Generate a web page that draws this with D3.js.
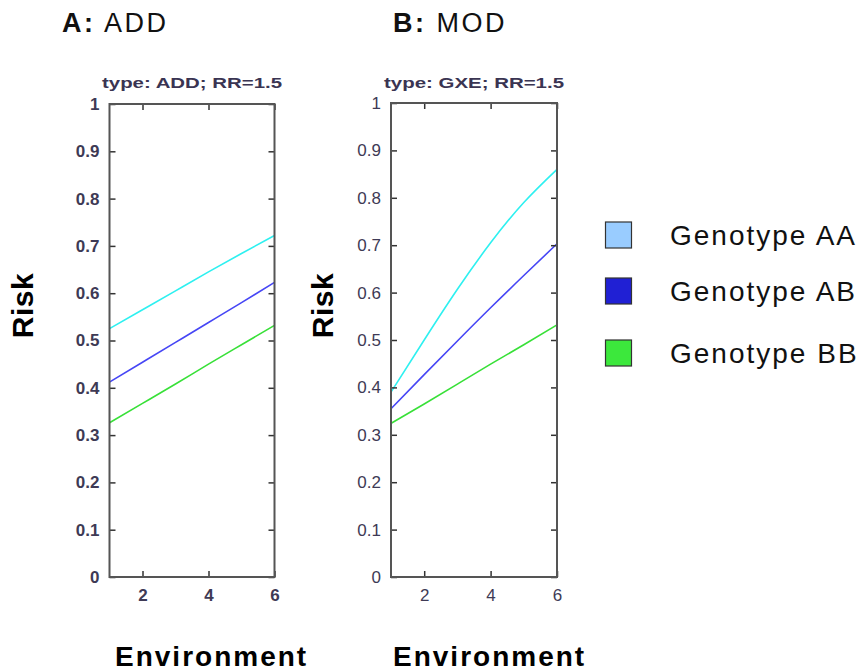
<!DOCTYPE html>
<html lang="en">
<head>
    <meta charset="UTF-8">
    <title>Risk by Environment and Genotype</title>
    <script src="https://d3js.org/d3.v7.min.js"></script>
    <style>
        body { margin: 0; background: #fff; }
        text { font-family: Arial, "Liberation Sans", sans-serif; }
    </style>
</head>
<body>
    <div id="chart"></div>
    <script>
        // Data
        const envX = [1, 2, 3, 4, 5, 6];
        const addAA = [0.525, 0.565, 0.605, 0.645, 0.684, 0.722];
        const addAB = [0.412, 0.454, 0.496, 0.538, 0.580, 0.623];
        const addBB = [0.326, 0.367, 0.408, 0.450, 0.491, 0.532];
        const modAA = [0.390, 0.500, 0.607, 0.705, 0.790, 0.860];
        const modAB = [0.355, 0.427, 0.498, 0.568, 0.636, 0.703];
        const modBB = [0.324, 0.365, 0.407, 0.449, 0.490, 0.532];
        const genotypes = ['Genotype AA', 'Genotype AB', 'Genotype BB'];
        const yTicks = [0, 0.1, 0.2, 0.3, 0.4, 0.5, 0.6, 0.7, 0.8, 0.9, 1];
        const xTicks = [2, 4, 6];

        const lineColors = ['#2ef0f0', '#4646f5', '#38e038'];
        const legendColors = ['#99ccff', '#2020d4', '#3ce83c'];

        const svg = d3.select('#chart')
            .append('svg')
            .attr('width', 861)
            .attr('height', 672);

        const panels = [
            { letter: 'A:', name: ' ADD', tx: 62, sub: 'type: ADD; RR=1.5', series: [addAA, addAB, addBB],
              left: 109.5, right: 274.5, top: 104, bottom: 577, riskX: 33, envLeft: 115, bold: true },
            { letter: 'B:', name: ' MOD', tx: 393, sub: 'type: GXE; RR=1.5', series: [modAA, modAB, modBB],
              left: 391, right: 557, top: 103, bottom: 577, riskX: 333, envLeft: 393, bold: false }
        ];

        panels.forEach(p => {
            const x = d3.scaleLinear().domain([1, 6]).range([p.left, p.right]);
            const y = d3.scaleLinear().domain([0, 1]).range([p.bottom, p.top]);

            // panel title
            const t = svg.append('text')
                .attr('x', p.tx).attr('y', 32)
                .attr('font-size', 27).attr('letter-spacing', 2.5)
                .attr('fill', '#111');
            t.append('tspan').attr('font-weight', 'bold').text(p.letter);
            t.append('tspan').text(p.name);

            // subtitle
            svg.append('text')
                .attr('x', (p.left + p.right) / 2 - 90).attr('y', 88)
                .attr('font-size', 15).attr('font-weight', 'bold')
                .attr('textLength', 180).attr('lengthAdjust', 'spacingAndGlyphs')
                .attr('fill', '#3a3452')
                .text(p.sub);

            // lines
            const line = d3.line()
                .x((d, i) => x(envX[i]))
                .y(d => y(d))
                .curve(d3.curveNatural);
            p.series.forEach((s, k) => {
                svg.append('path')
                    .datum(s)
                    .attr('d', line)
                    .attr('fill', 'none')
                    .attr('stroke', lineColors[k])
                    .attr('stroke-width', 1.6);
            });

            // axes with inward ticks on all four sides
            const tickFmt = d => (d === 0 || d === 1) ? String(d) : d3.format('.1f')(d);
            const gl = svg.append('g').attr('transform', `translate(${p.left},0)`)
                .call(d3.axisLeft(y).tickValues(yTicks).tickSize(-6).tickPadding(10).tickFormat(tickFmt));
            const gr = svg.append('g').attr('transform', `translate(${p.right},0)`)
                .call(d3.axisRight(y).tickValues(yTicks).tickSize(-6).tickFormat(''));
            const gb = svg.append('g').attr('transform', `translate(0,${p.bottom})`)
                .call(d3.axisBottom(x).tickValues(xTicks).tickSize(-6).tickPadding(12).tickFormat(d3.format('d')));
            const gt = svg.append('g').attr('transform', `translate(0,${p.top})`)
                .call(d3.axisTop(x).tickValues(xTicks).tickSize(-6).tickFormat(''));

            [gl, gr, gb, gt].forEach(g => {
                g.select('.domain').remove();
                g.selectAll('.tick line').attr('stroke', '#333').attr('stroke-width', 1.5);
                g.selectAll('.tick text')
                    .attr('font-size', 17)
                    .attr('font-weight', p.bold ? 'bold' : 'normal')
                    .attr('fill', '#3e3a55')
                    .style('font-family', 'Arial, "Liberation Sans", sans-serif');
            });

            // frame
            svg.append('rect')
                .attr('x', p.left).attr('y', p.top)
                .attr('width', p.right - p.left).attr('height', p.bottom - p.top)
                .attr('fill', 'none').attr('stroke', '#555').attr('stroke-width', 2);

            // axis titles
            svg.append('text')
                .attr('transform', `translate(${p.riskX},305.5) rotate(-90)`)
                .attr('text-anchor', 'middle')
                .attr('font-size', 30).attr('font-weight', 'bold').attr('letter-spacing', 0.5)
                .attr('fill', '#000')
                .text('Risk');
            svg.append('text')
                .attr('x', p.envLeft).attr('y', 666)
                .attr('font-size', 28).attr('font-weight', 'bold').attr('letter-spacing', 2)
                .attr('fill', '#000')
                .text('Environment');
        });

        // legend
        const legendY = [222, 278, 340];
        const lg = svg.append('g');
        genotypes.forEach((g, i) => {
            lg.append('rect')
                .attr('x', 605.5).attr('y', legendY[i])
                .attr('width', 26).attr('height', 26)
                .attr('fill', legendColors[i])
                .attr('stroke', '#333').attr('stroke-width', 1.2);
            lg.append('text')
                .attr('x', 670).attr('y', legendY[i] + 23)
                .attr('font-size', 28).attr('letter-spacing', 2)
                .attr('fill', '#111')
                .text(g);
        });
    </script>
</body>
</html>
